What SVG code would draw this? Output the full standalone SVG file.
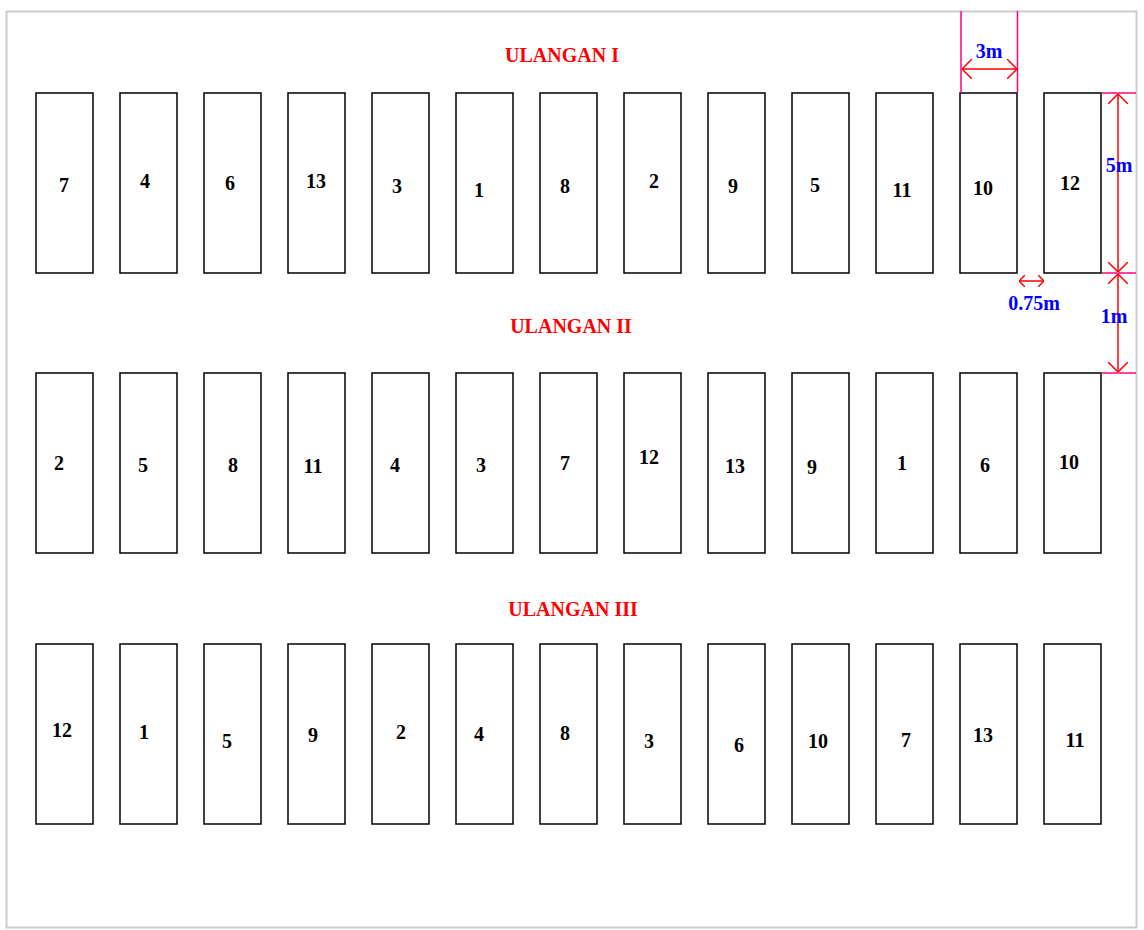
<svg xmlns="http://www.w3.org/2000/svg" width="1144" height="930" viewBox="0 0 1144 930">
<style>
.plot{fill:#fff;stroke:#000;stroke-width:1.5}
.num{font-family:"Liberation Serif",serif;font-weight:bold;font-size:20px;fill:#000;text-anchor:middle}
.ttl{font-family:"Liberation Serif",serif;font-weight:bold;font-size:20px;fill:#ff0000;text-anchor:middle}
.dim{font-family:"Liberation Serif",serif;font-weight:bold;font-size:20px;fill:#0000ff;text-anchor:middle}
.ext{stroke:#ff0080;stroke-width:1.5;fill:none}
.arr{stroke:#ff0000;stroke-width:1.5;fill:none;marker-start:url(#ah);marker-end:url(#ah)}
</style>
<defs>
<marker id="ah" viewBox="0 0 10 20" refX="10" refY="10" markerWidth="10" markerHeight="20" markerUnits="userSpaceOnUse" orient="auto-start-reverse">
<path d="M0,0 L10,10 L0,20" fill="none" stroke="#ff0000" stroke-width="1.5"/>
</marker>
<marker id="ahs" viewBox="0 0 6 12" refX="6" refY="6" markerWidth="6" markerHeight="12" markerUnits="userSpaceOnUse" orient="auto-start-reverse">
<path d="M0,0 L6,6 L0,12" fill="none" stroke="#ff0000" stroke-width="1.5"/>
</marker>
</defs>
<rect x="0" y="0" width="1144" height="930" fill="#fff"/>
<rect x="6.5" y="11.5" width="1130" height="916" fill="#fff" stroke="#cccccc" stroke-width="2"/>

<text class="ttl" x="562" y="62">ULANGAN I</text>
<text class="ttl" x="571" y="333">ULANGAN II</text>
<text class="ttl" x="573" y="616">ULANGAN III</text>

<g id="row1">
<g id="r1p1"><rect class="plot" x="36" y="93" width="57" height="180"/><text class="num" x="64" y="192">7</text></g>
<g id="r1p2"><rect class="plot" x="120" y="93" width="57" height="180"/><text class="num" x="145" y="188">4</text></g>
<g id="r1p3"><rect class="plot" x="204" y="93" width="57" height="180"/><text class="num" x="230" y="190">6</text></g>
<g id="r1p4"><rect class="plot" x="288" y="93" width="57" height="180"/><text class="num" x="316" y="188">13</text></g>
<g id="r1p5"><rect class="plot" x="372" y="93" width="57" height="180"/><text class="num" x="397" y="193">3</text></g>
<g id="r1p6"><rect class="plot" x="456" y="93" width="57" height="180"/><text class="num" x="479" y="197">1</text></g>
<g id="r1p7"><rect class="plot" x="540" y="93" width="57" height="180"/><text class="num" x="565" y="193">8</text></g>
<g id="r1p8"><rect class="plot" x="624" y="93" width="57" height="180"/><text class="num" x="654" y="188">2</text></g>
<g id="r1p9"><rect class="plot" x="708" y="93" width="57" height="180"/><text class="num" x="733" y="193">9</text></g>
<g id="r1p10"><rect class="plot" x="792" y="93" width="57" height="180"/><text class="num" x="815" y="192">5</text></g>
<g id="r1p11"><rect class="plot" x="876" y="93" width="57" height="180"/><text class="num" x="902" y="197">11</text></g>
<g id="r1p12"><rect class="plot" x="960" y="93" width="57" height="180"/><text class="num" x="983" y="195">10</text></g>
<g id="r1p13"><rect class="plot" x="1044" y="93" width="57" height="180"/><text class="num" x="1070" y="190">12</text></g>
</g>

<g id="row2">
<g id="r2p1"><rect class="plot" x="36" y="373" width="57" height="180"/><text class="num" x="59" y="470">2</text></g>
<g id="r2p2"><rect class="plot" x="120" y="373" width="57" height="180"/><text class="num" x="143" y="472">5</text></g>
<g id="r2p3"><rect class="plot" x="204" y="373" width="57" height="180"/><text class="num" x="233" y="472">8</text></g>
<g id="r2p4"><rect class="plot" x="288" y="373" width="57" height="180"/><text class="num" x="313" y="473">11</text></g>
<g id="r2p5"><rect class="plot" x="372" y="373" width="57" height="180"/><text class="num" x="395" y="472">4</text></g>
<g id="r2p6"><rect class="plot" x="456" y="373" width="57" height="180"/><text class="num" x="481" y="472">3</text></g>
<g id="r2p7"><rect class="plot" x="540" y="373" width="57" height="180"/><text class="num" x="565" y="470">7</text></g>
<g id="r2p8"><rect class="plot" x="624" y="373" width="57" height="180"/><text class="num" x="649" y="464">12</text></g>
<g id="r2p9"><rect class="plot" x="708" y="373" width="57" height="180"/><text class="num" x="735" y="473">13</text></g>
<g id="r2p10"><rect class="plot" x="792" y="373" width="57" height="180"/><text class="num" x="812" y="474">9</text></g>
<g id="r2p11"><rect class="plot" x="876" y="373" width="57" height="180"/><text class="num" x="902" y="470">1</text></g>
<g id="r2p12"><rect class="plot" x="960" y="373" width="57" height="180"/><text class="num" x="985" y="472">6</text></g>
<g id="r2p13"><rect class="plot" x="1044" y="373" width="57" height="180"/><text class="num" x="1069" y="469">10</text></g>
</g>

<g id="row3">
<g id="r3p1"><rect class="plot" x="36" y="644" width="57" height="180"/><text class="num" x="62" y="737">12</text></g>
<g id="r3p2"><rect class="plot" x="120" y="644" width="57" height="180"/><text class="num" x="144" y="739">1</text></g>
<g id="r3p3"><rect class="plot" x="204" y="644" width="57" height="180"/><text class="num" x="227" y="748">5</text></g>
<g id="r3p4"><rect class="plot" x="288" y="644" width="57" height="180"/><text class="num" x="313" y="742">9</text></g>
<g id="r3p5"><rect class="plot" x="372" y="644" width="57" height="180"/><text class="num" x="401" y="739">2</text></g>
<g id="r3p6"><rect class="plot" x="456" y="644" width="57" height="180"/><text class="num" x="479" y="741">4</text></g>
<g id="r3p7"><rect class="plot" x="540" y="644" width="57" height="180"/><text class="num" x="565" y="740">8</text></g>
<g id="r3p8"><rect class="plot" x="624" y="644" width="57" height="180"/><text class="num" x="649" y="748">3</text></g>
<g id="r3p9"><rect class="plot" x="708" y="644" width="57" height="180"/><text class="num" x="739" y="752">6</text></g>
<g id="r3p10"><rect class="plot" x="792" y="644" width="57" height="180"/><text class="num" x="818" y="748">10</text></g>
<g id="r3p11"><rect class="plot" x="876" y="644" width="57" height="180"/><text class="num" x="906" y="747">7</text></g>
<g id="r3p12"><rect class="plot" x="960" y="644" width="57" height="180"/><text class="num" x="983" y="742">13</text></g>
<g id="r3p13"><rect class="plot" x="1044" y="644" width="57" height="180"/><text class="num" x="1075" y="747">11</text></g>
</g>

<g id="dimensions">
<line class="ext" x1="961" y1="11" x2="961" y2="93"/>
<line class="ext" x1="1017.5" y1="11" x2="1017.5" y2="93"/>
<line class="arr" x1="962" y1="69" x2="1017" y2="69"/>
<text class="dim" x="989" y="58">3m</text>

<line class="ext" x1="1102" y1="93" x2="1136" y2="93"/>
<line class="ext" x1="1102" y1="273" x2="1136" y2="273"/>
<line class="ext" x1="1102" y1="373" x2="1136" y2="373"/>
<line class="arr" x1="1118" y1="94" x2="1118" y2="272"/>
<line class="arr" x1="1118" y1="274" x2="1118" y2="372"/>
<text class="dim" x="1119" y="172">5m</text>
<text class="dim" x="1114" y="323">1m</text>

<line class="arr" x1="1019" y1="281" x2="1044" y2="281" style="marker-start:url(#ahs);marker-end:url(#ahs)"/>
<text class="dim" x="1034" y="310">0.75m</text>
</g>
</svg>
